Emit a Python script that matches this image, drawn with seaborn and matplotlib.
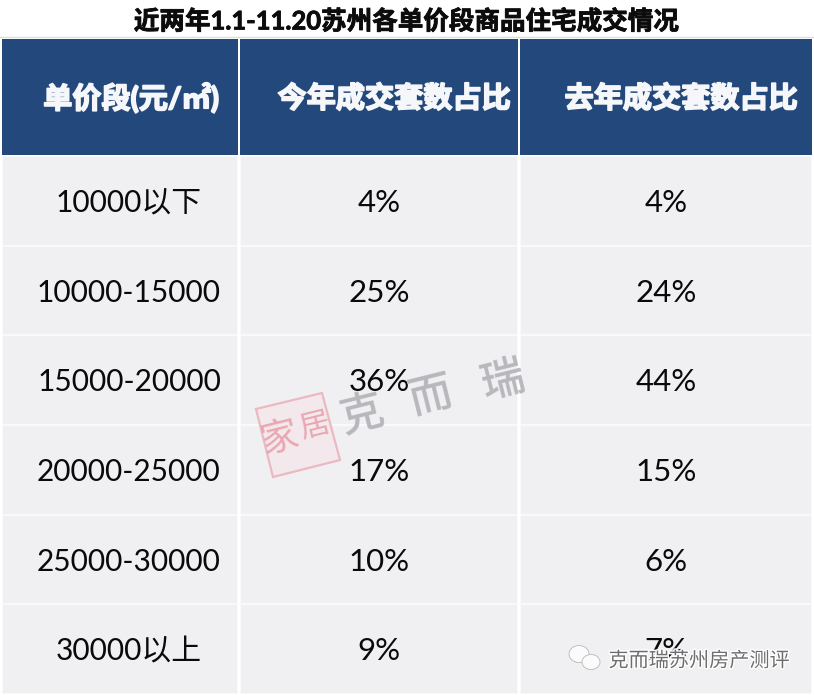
import numpy as np
import pandas as pd
import seaborn as sns
import matplotlib.pyplot as plt
import matplotlib.patheffects as pe
from matplotlib.colors import ListedColormap
from matplotlib.patches import Polygon, Ellipse

sns.set_theme(style="white")
plt.rcParams['font.family'] = ['Lato', 'Noto Sans CJK SC', 'DejaVu Sans']

title = "近两年1.1-11.20苏州各单价段商品住宅成交情况"
headers = ["单价段(元/㎡)", "今年成交套数占比", "去年成交套数占比"]
price_bands = ["10000以下", "10000-15000", "15000-20000", "20000-25000", "25000-30000", "30000以上"]
this_year = [4, 25, 36, 17, 10, 9]
last_year = [4, 24, 44, 15, 6, 7]

W, H = 814, 695
col_edges = [(2, 238), (240, 518), (520, 812)]
header_box = (39, 155)
body_box = (156, 694)
header_x = [131, 394, 681]
body_x = [129, 379, 666]
body_size = [21.5, 22.5, 22.5]

fig = plt.figure(figsize=(W / 100, H / 100), dpi=100, facecolor="white")


def box_axes(x0, x1, y0, y1):
    return fig.add_axes([x0 / W, 1 - y1 / H, (x1 - x0) / W, (y1 - y0) / H])


columns = [
    [b for b in price_bands],
    [f"{v}%" for v in this_year],
    [f"{v}%" for v in last_year],
]

# one heatmap per column because the widths differ
for i, (x0, x1) in enumerate(col_edges):
    ax = box_axes(x0, x1, *header_box)
    sns.heatmap(
        pd.DataFrame([[1]]),
        ax=ax,
        cmap=ListedColormap(["#23497c"]),
        cbar=False,
        annot=np.array([[headers[i]]]),
        fmt="",
        annot_kws={"fontsize": 21, "fontweight": "black", "color": "#f6f7fa"},
        xticklabels=False,
        yticklabels=False,
    )
    for t in ax.texts:
        t.set_x(0.5 + (header_x[i] - (x0 + x1) / 2) / (x1 - x0))
        t.set_y(0.51)
        t.set_path_effects([pe.withStroke(linewidth=1.2, foreground="#f6f7fa")])

    ax = box_axes(x0, x1, *body_box)
    sns.heatmap(
        pd.DataFrame(np.ones((6, 1))),
        ax=ax,
        cmap=ListedColormap(["#f0eff1"]),
        cbar=False,
        annot=np.array(columns[i]).reshape(6, 1),
        fmt="",
        annot_kws={"fontsize": body_size[i], "color": "#0a0a0a"},
        linewidths=1.2,
        linecolor="#f9f8fb",
        xticklabels=False,
        yticklabels=False,
    )
    for t in ax.texts:
        t.set_x(0.5 + (body_x[i] - (x0 + x1) / 2) / (x1 - x0))
        t.set_y(t.get_position()[1] + 0.025)

# overlay in pixel coordinates for title and watermarks
ov = fig.add_axes([0, 0, 1, 1], facecolor="none")
ov.set_xlim(0, W)
ov.set_ylim(H, 0)
ov.axis("off")

ov.text(406, 21, title, ha="center", va="center", fontsize=18.4, fontweight="bold", color="#0c0c0c",
        path_effects=[pe.withStroke(linewidth=0.6, foreground="#0c0c0c")])
ov.plot([0, W], [37, 37], color="#d9dfe3", lw=1)

for ch, x, y in [("克", 362, 415), ("而", 431, 397), ("瑞", 503, 381)]:
    ov.text(x, y, ch, ha="center", va="center", fontsize=31, rotation=14,
            color="#b5b5ba", alpha=0.8,
            path_effects=[pe.withStroke(linewidth=0.8, foreground="#c4c4c8")])

stamp = [(256, 409), (322, 393), (340, 460), (273, 477)]
ov.add_patch(Polygon(stamp, closed=True, facecolor="#f4e9ec", edgecolor="#eab4bc", lw=1.6, alpha=0.9))
ov.text(280, 438, "家", ha="center", va="center", fontsize=27, rotation=14, color="#e9a0ac", alpha=0.9)
ov.text(315, 426, "居", ha="center", va="center", fontsize=22, rotation=14, color="#e9a0ac", alpha=0.9)

ov.add_patch(Ellipse((579, 654), 20, 17, facecolor="#fbfbfb", edgecolor="#b8b8b8", lw=0.6))
ov.add_patch(Ellipse((591, 662), 18, 15, facecolor="#fbfbfb", edgecolor="#b8b8b8", lw=0.6))
ov.text(699, 660, "克而瑞苏州房产测评", ha="center", va="center", fontsize=14.5, color="#6e6e6e",
        path_effects=[pe.withStroke(linewidth=2, foreground="white")])

fig.savefig("out.png", dpi=100)
